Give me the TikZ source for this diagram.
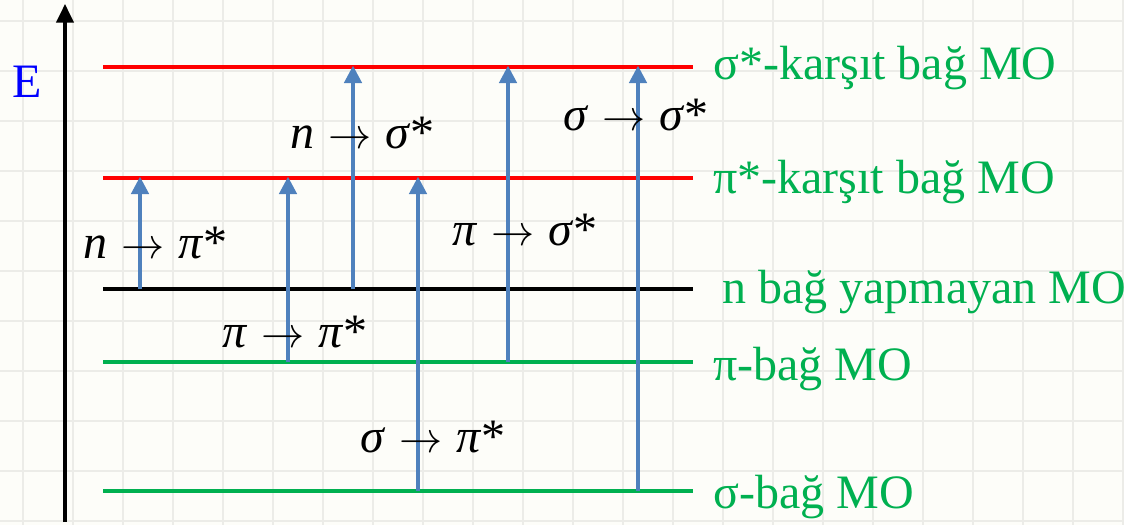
\documentclass[tikz,border=0pt]{standalone}
\usepackage{graphicx}
\usepackage{fontspec}
\setmainfont{Liberation Serif}
\usetikzlibrary{arrows.meta}
\definecolor{bgc}{HTML}{FDFDF9}
\definecolor{gridc}{HTML}{ECECE8}
\definecolor{lvlgreen}{HTML}{00B050}
\definecolor{trblue}{HTML}{4F81BD}
\definecolor{lvlred}{HTML}{FF0000}
\tikzset{
  lvl/.style={line width=3.2pt},
  tr/.style={trblue, line width=2.6pt, -{Triangle[width=13pt,length=13pt]}, shorten >=-1pt},
  molabel/.style={anchor=base west, inner sep=0pt, text=lvlgreen, font=\fontsize{36}{40}\selectfont},
  trlabel/.style={anchor=base west, inner sep=0pt, font=\fontsize{36}{40}\selectfont},
}
\newcommand{\trl}[2]{\textit{#1}\hspace{0.3em}\resizebox{0.9em}{!}{$\rightarrow$}\hspace{0.28em}\textit{#2}*}
\begin{document}
\begin{tikzpicture}[x=0.75pt,y=-0.75pt]
\useasboundingbox (0,0) rectangle (1124,525);
\fill[bgc] (0,0) rectangle (1124,525);
\foreach \x in {23,73,...,1123} \draw[gridc, line width=1pt] (\x,0) -- (\x,525);
\foreach \y in {21,71,...,521} \draw[gridc, line width=1pt] (0,\y) -- (1124,\y);
% axis
\coordinate (axb) at (65,522);
\coordinate (axt) at (65,4);
\draw[line width=2.6pt, -{Triangle[width=13pt,length=14pt]}] (axb) -- (axt);
\node[anchor=base west, inner sep=0pt, text=blue, font=\fontsize{36}{40}\selectfont] (E) at (12,97) {E};
% levels
\draw[lvl, lvlred] (103,67) coordinate (ss0) -- (693,67) coordinate (ss1);
\draw[lvl, lvlred] (103,178) coordinate (ps0) -- (693,178) coordinate (ps1);
\draw[lvl, black] (103,289) coordinate (n0) -- (693,289) coordinate (n1);
\draw[lvl, lvlgreen] (103,362) coordinate (p0) -- (693,362) coordinate (p1);
\draw[lvl, lvlgreen] (103,491) coordinate (s0) -- (693,491) coordinate (s1);
% level labels
\node[molabel] (Lss) at (713,79) {σ*-karşıt bağ MO};
\node[molabel] (Lps) at (713,193) {π*-karşıt bağ MO};
\node[molabel] (Ln) at (722,303) {n bağ yapmayan MO};
\node[molabel] (Lp) at (713,380) {π-bağ MO};
\node[molabel] (Ls) at (713,508) {σ-bağ MO};
% transitions
\coordinate (a1s) at (140,289); \coordinate (a1e) at (140,178);
\coordinate (a2s) at (288,362); \coordinate (a2e) at (288,178);
\coordinate (a3s) at (353,289); \coordinate (a3e) at (353,67);
\coordinate (a4s) at (418,491); \coordinate (a4e) at (418,178);
\coordinate (a5s) at (508,362); \coordinate (a5e) at (508,67);
\coordinate (a6s) at (638,491); \coordinate (a6e) at (638,67);
\draw[tr] (a1s) -- (a1e);
\draw[tr] (a2s) -- (a2e);
\draw[tr] (a3s) -- (a3e);
\draw[tr] (a4s) -- (a4e);
\draw[tr] (a5s) -- (a5e);
\draw[tr] (a6s) -- (a6e);
\node[trlabel] (t1) at (83,258) {\trl{n}{π}};
\node[trlabel] (t2) at (222,347) {\trl{π}{π}};
\node[trlabel] (t3) at (290,148) {\trl{n}{σ}};
\node[trlabel] (t4) at (360,452) {\trl{σ}{π}};
\node[trlabel] (t5) at (452,245) {\trl{π}{σ}};
\node[trlabel] (t6) at (563,130) {\trl{σ}{σ}};
\end{tikzpicture}
\end{document}
